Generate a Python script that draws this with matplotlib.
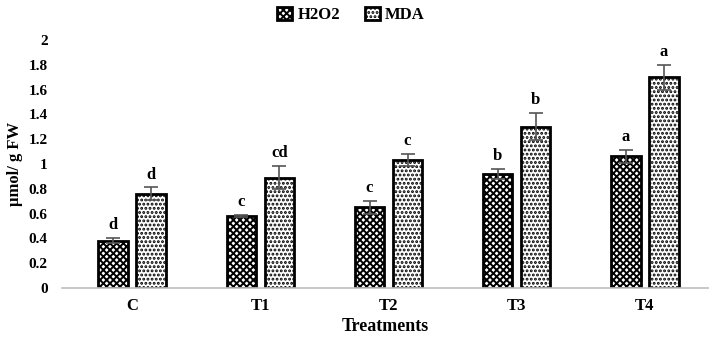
import matplotlib.pyplot as plt
import numpy as np

plt.rcParams["font.family"] = ["Liberation Serif", "DejaVu Serif"]
plt.rcParams["font.weight"] = "bold"
plt.rcParams["hatch.linewidth"] = 1.4

categories = ["C", "T1", "T2", "T3", "T4"]
h2o2 = [0.38, 0.58, 0.65, 0.92, 1.06]
h2o2_err = [0.02, 0.01, 0.05, 0.04, 0.05]
h2o2_letters = ["d", "c", "c", "b", "a"]
mda = [0.76, 0.89, 1.03, 1.30, 1.70]
mda_err = [0.05, 0.09, 0.05, 0.11, 0.10]
mda_letters = ["d", "cd", "c", "b", "a"]
yticks = [0, 0.2, 0.4, 0.6, 0.8, 1, 1.2, 1.4, 1.6, 1.8, 2]

fig = plt.figure(figsize=(7.09, 3.38), dpi=100)
ax = fig.add_axes([0.087, 0.148, 0.913, 0.734])

x = np.arange(len(categories))
width = 0.23
off = 0.148

b1 = ax.bar(x - off, h2o2, width, color="white", edgecolor="black", linewidth=2,
            hatch="xxxxx", label="H2O2", zorder=2)
b2 = ax.bar(x + off, mda, width, color="white", edgecolor="black", linewidth=2,
            hatch="....", label="MDA", zorder=2)
ax.errorbar(x - off, h2o2, yerr=h2o2_err, fmt="none", ecolor="#555555",
            elinewidth=1.2, capsize=5, capthick=1.2, zorder=3)
ax.errorbar(x + off, mda, yerr=mda_err, fmt="none", ecolor="#555555",
            elinewidth=1.2, capsize=5, capthick=1.2, zorder=3)

for i in range(len(categories)):
    ax.text(x[i] - off, h2o2[i] + h2o2_err[i] + 0.04, h2o2_letters[i],
            ha="center", va="bottom", fontsize=12, fontweight="bold")
    ax.text(x[i] + off, mda[i] + mda_err[i] + 0.04, mda_letters[i],
            ha="center", va="bottom", fontsize=12, fontweight="bold")

ax.set_xlim(-0.55, 4.5)
ax.set_ylim(0, 2)
ax.set_yticks(yticks)
ax.set_yticklabels([f"{t:g}" for t in yticks], fontsize=11, fontweight="bold")
ax.set_xticks(x)
ax.set_xticklabels(categories, fontsize=12, fontweight="bold")
ax.tick_params(axis="both", length=0)
ax.tick_params(axis="x", pad=7)
ax.tick_params(axis="y", pad=10)

for s in ["top", "right", "left"]:
    ax.spines[s].set_visible(False)
ax.spines["bottom"].set_color("#bfbfbf")
ax.spines["bottom"].set_linewidth(1.2)

ax.set_xlabel("Treatments", fontsize=13, fontweight="bold", labelpad=3)
ax.set_ylabel("µmol/ g FW", fontsize=12, fontweight="bold", labelpad=4)

fig.legend(handles=[b1, b2], loc="upper center", bbox_to_anchor=(0.495, 1.025),
           ncol=2, frameon=False, fontsize=12, handlelength=0.9, handleheight=0.9,
           columnspacing=1.5, handletextpad=0.3)

plt.savefig("out.png", dpi=100)
